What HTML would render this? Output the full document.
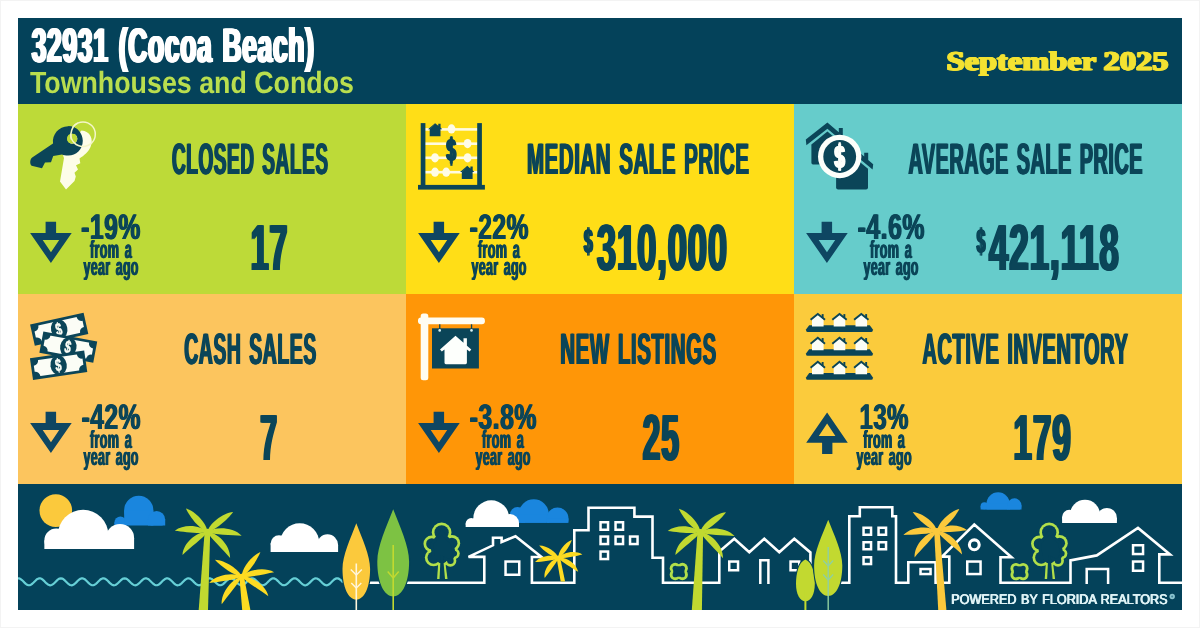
<!DOCTYPE html>
<html><head><meta charset="utf-8"><title>32931 (Cocoa Beach) Townhouses and Condos - September 2025</title>
<style>
html,body{margin:0;padding:0;background:#fff;}
body{width:1200px;height:628px;overflow:hidden;font-family:"Liberation Sans",sans-serif;}
svg{display:block;will-change:transform;}
</style></head><body>
<svg width="1200" height="628" viewBox="0 0 1200 628" text-rendering="geometricPrecision">
<rect x="0" y="0" width="1200" height="628" fill="#ffffff"/>
<rect x="0.5" y="0.5" width="1199" height="627" fill="none" stroke="#f3f3f3" stroke-width="1"/>
<rect x="18" y="18" width="1164" height="86" fill="#04425a"/>
<rect x="18" y="104" width="388" height="190" fill="#bdda38"/>
<rect x="406" y="104" width="388" height="190" fill="#ffde17"/>
<rect x="794" y="104" width="388" height="190" fill="#66cccb"/>
<rect x="18" y="294" width="388" height="190" fill="#fcc55e"/>
<rect x="406" y="294" width="388" height="190" fill="#ff9607"/>
<rect x="794" y="294" width="388" height="190" fill="#fbcb3c"/>
<rect x="18" y="484" width="1164" height="126" fill="#04425a"/>
<text id="t1" transform="translate(30.40,62.20) scale(0.5471,1.0000)" font-family="Liberation Sans" font-weight="bold" font-size="48.29" fill="#ffffff" word-spacing="3.66" letter-spacing="1.28">32931 (Cocoa Beach)</text>
<use href="#t1" x="0.62"/>
<use href="#t1" x="1.25"/>
<use href="#t1" x="1.88"/>
<use href="#t1" x="2.50"/>
<text id="t2" transform="translate(29.90,92.50) scale(0.8733,1.0000)" font-family="Liberation Sans" font-weight="bold" font-size="30.69" fill="#b9de4e">Townhouses and Condos</text>
<text id="t3" transform="translate(945.80,70.00) scale(1.2074,1.0000)" font-family="Liberation Serif" font-weight="bold" font-size="26.87" fill="#f4e232" stroke="#f4e232" stroke-width="0.70" stroke-linejoin="round">September 2025</text>
<use href="#t3" x="0.80"/>
<use href="#t3" x="1.60"/>
<text id="t4" transform="translate(171.25,173.50) scale(0.4308,1.0000)" font-family="Liberation Sans" font-weight="bold" font-size="44.07" fill="#0b4558" word-spacing="4.18" letter-spacing="1.39">CLOSED SALES</text>
<use href="#t4" x="0.70"/>
<use href="#t4" x="1.40"/>
<text id="t5" transform="translate(526.30,173.50) scale(0.4635,1.0000)" font-family="Liberation Sans" font-weight="bold" font-size="44.07" fill="#0b4558" word-spacing="3.88" letter-spacing="1.29">MEDIAN SALE PRICE</text>
<use href="#t5" x="0.70"/>
<use href="#t5" x="1.40"/>
<text id="t6" transform="translate(907.80,173.50) scale(0.4481,1.0000)" font-family="Liberation Sans" font-weight="bold" font-size="44.07" fill="#0b4558" word-spacing="4.02" letter-spacing="1.34">AVERAGE SALE PRICE</text>
<use href="#t6" x="0.70"/>
<use href="#t6" x="1.40"/>
<text id="t7" transform="translate(183.50,363.50) scale(0.4397,1.0000)" font-family="Liberation Sans" font-weight="bold" font-size="44.07" fill="#0b4558" word-spacing="4.09" letter-spacing="1.36">CASH SALES</text>
<use href="#t7" x="0.70"/>
<use href="#t7" x="1.40"/>
<text id="t8" transform="translate(559.60,363.50) scale(0.4637,1.0000)" font-family="Liberation Sans" font-weight="bold" font-size="44.07" fill="#0b4558" word-spacing="3.88" letter-spacing="1.29">NEW LISTINGS</text>
<use href="#t8" x="0.70"/>
<use href="#t8" x="1.40"/>
<text id="t9" transform="translate(921.70,363.50) scale(0.4543,1.0000)" font-family="Liberation Sans" font-weight="bold" font-size="44.07" fill="#0b4558" word-spacing="3.96" letter-spacing="1.32">ACTIVE INVENTORY</text>
<use href="#t9" x="0.70"/>
<use href="#t9" x="1.40"/>
<text id="t10" transform="translate(249.50,269.80) scale(0.4925,1.0000)" font-family="Liberation Sans" font-weight="bold" font-size="65.16" fill="#0b4558" letter-spacing="1.83">17</text>
<use href="#t10" x="0.80"/>
<use href="#t10" x="1.60"/>
<use href="#t10" x="2.40"/>
<text id="t11" transform="translate(595.70,269.80) scale(0.5298,1.0000)" font-family="Liberation Sans" font-weight="bold" font-size="65.16" fill="#0b4558" letter-spacing="1.70">310,000</text>
<use href="#t11" x="0.80"/>
<use href="#t11" x="1.60"/>
<use href="#t11" x="2.40"/>
<text id="t12" transform="translate(583.00,253.00) scale(0.4580,1.0000)" font-family="Liberation Sans" font-weight="bold" font-size="34.62" fill="#0b4558">$</text>
<use href="#t12" x="0.60"/>
<use href="#t12" x="1.20"/>
<use href="#t12" x="1.80"/>
<text id="t13" transform="translate(987.70,269.80) scale(0.5371,1.0000)" font-family="Liberation Sans" font-weight="bold" font-size="65.16" fill="#0b4558" letter-spacing="1.68">421,118</text>
<use href="#t13" x="0.80"/>
<use href="#t13" x="1.60"/>
<use href="#t13" x="2.40"/>
<text id="t14" transform="translate(975.80,253.00) scale(0.4528,1.0000)" font-family="Liberation Sans" font-weight="bold" font-size="34.62" fill="#0b4558">$</text>
<use href="#t14" x="0.60"/>
<use href="#t14" x="1.20"/>
<use href="#t14" x="1.80"/>
<text id="t15" transform="translate(258.90,459.80) scale(0.4701,1.0000)" font-family="Liberation Sans" font-weight="bold" font-size="65.16" fill="#0b4558" letter-spacing="1.91">7</text>
<use href="#t15" x="0.80"/>
<use href="#t15" x="1.60"/>
<use href="#t15" x="2.40"/>
<text id="t16" transform="translate(641.40,459.80) scale(0.4897,1.0000)" font-family="Liberation Sans" font-weight="bold" font-size="65.16" fill="#0b4558" letter-spacing="1.84">25</text>
<use href="#t16" x="0.80"/>
<use href="#t16" x="1.60"/>
<use href="#t16" x="2.40"/>
<text id="t17" transform="translate(1012.20,459.80) scale(0.5117,1.0000)" font-family="Liberation Sans" font-weight="bold" font-size="65.16" fill="#0b4558" letter-spacing="1.76">179</text>
<use href="#t17" x="0.80"/>
<use href="#t17" x="1.60"/>
<use href="#t17" x="2.40"/>
<text id="t18" transform="translate(80.60,238.90) scale(0.6951,1.0000)" font-family="Liberation Sans" font-weight="bold" font-size="35.49" fill="#0b4558" letter-spacing="0.72">-19%</text>
<use href="#t18" x="0.60"/>
<use href="#t18" x="1.20"/>
<text id="t19" transform="translate(89.60,257.80) scale(0.5050,1.0000)" font-family="Liberation Sans" font-weight="bold" font-size="25.02" fill="#0b4558" word-spacing="3.17" letter-spacing="0.59">from a</text>
<use href="#t19" x="0.50"/>
<use href="#t19" x="1.00"/>
<text id="t20" transform="translate(83.00,275.30) scale(0.5062,1.0000)" font-family="Liberation Sans" font-weight="bold" font-size="24.64" fill="#0b4558" word-spacing="3.16" letter-spacing="0.59">year ago</text>
<use href="#t20" x="0.50"/>
<use href="#t20" x="1.00"/>
<path fill="#0e4662" fill-rule="evenodd" d="M45.6 221.8 h10.5 v11.2 h15.6 L50.9 263.0 L30.1 233.0 h15.5 z M42.7 240.1 h16.5 l-8.25 12.1 z"/>
<text id="t21" transform="translate(469.00,238.90) scale(0.6914,1.0000)" font-family="Liberation Sans" font-weight="bold" font-size="35.49" fill="#0b4558" letter-spacing="0.72">-22%</text>
<use href="#t21" x="0.60"/>
<use href="#t21" x="1.20"/>
<text id="t22" transform="translate(477.60,257.80) scale(0.5050,1.0000)" font-family="Liberation Sans" font-weight="bold" font-size="25.02" fill="#0b4558" word-spacing="3.17" letter-spacing="0.59">from a</text>
<use href="#t22" x="0.50"/>
<use href="#t22" x="1.00"/>
<text id="t23" transform="translate(471.00,275.30) scale(0.5062,1.0000)" font-family="Liberation Sans" font-weight="bold" font-size="24.64" fill="#0b4558" word-spacing="3.16" letter-spacing="0.59">year ago</text>
<use href="#t23" x="0.50"/>
<use href="#t23" x="1.00"/>
<path fill="#0e4662" fill-rule="evenodd" d="M433.6 221.8 h10.5 v11.2 h15.6 L438.9 263.0 L418.1 233.0 h15.5 z M430.7 240.1 h16.5 l-8.25 12.1 z"/>
<text id="t24" transform="translate(857.00,238.90) scale(0.6989,1.0000)" font-family="Liberation Sans" font-weight="bold" font-size="35.49" fill="#0b4558" letter-spacing="0.72">-4.6%</text>
<use href="#t24" x="0.60"/>
<use href="#t24" x="1.20"/>
<text id="t25" transform="translate(869.60,257.80) scale(0.5050,1.0000)" font-family="Liberation Sans" font-weight="bold" font-size="25.02" fill="#0b4558" word-spacing="3.17" letter-spacing="0.59">from a</text>
<use href="#t25" x="0.50"/>
<use href="#t25" x="1.00"/>
<text id="t26" transform="translate(863.00,275.30) scale(0.5062,1.0000)" font-family="Liberation Sans" font-weight="bold" font-size="24.64" fill="#0b4558" word-spacing="3.16" letter-spacing="0.59">year ago</text>
<use href="#t26" x="0.50"/>
<use href="#t26" x="1.00"/>
<path fill="#0e4662" fill-rule="evenodd" d="M821.6 221.8 h10.5 v11.2 h15.6 L826.9 263.0 L806.1 233.0 h15.5 z M818.7 240.1 h16.5 l-8.25 12.1 z"/>
<text id="t27" transform="translate(81.00,428.90) scale(0.6914,1.0000)" font-family="Liberation Sans" font-weight="bold" font-size="35.49" fill="#0b4558" letter-spacing="0.72">-42%</text>
<use href="#t27" x="0.60"/>
<use href="#t27" x="1.20"/>
<text id="t28" transform="translate(89.60,447.80) scale(0.5050,1.0000)" font-family="Liberation Sans" font-weight="bold" font-size="25.02" fill="#0b4558" word-spacing="3.17" letter-spacing="0.59">from a</text>
<use href="#t28" x="0.50"/>
<use href="#t28" x="1.00"/>
<text id="t29" transform="translate(83.00,465.30) scale(0.5062,1.0000)" font-family="Liberation Sans" font-weight="bold" font-size="24.64" fill="#0b4558" word-spacing="3.16" letter-spacing="0.59">year ago</text>
<use href="#t29" x="0.50"/>
<use href="#t29" x="1.00"/>
<path fill="#0e4662" fill-rule="evenodd" d="M45.6 411.8 h10.5 v11.2 h15.6 L50.9 453.0 L30.1 423.0 h15.5 z M42.7 430.1 h16.5 l-8.25 12.1 z"/>
<text id="t30" transform="translate(469.00,428.90) scale(0.6989,1.0000)" font-family="Liberation Sans" font-weight="bold" font-size="35.49" fill="#0b4558" letter-spacing="0.72">-3.8%</text>
<use href="#t30" x="0.60"/>
<use href="#t30" x="1.20"/>
<text id="t31" transform="translate(481.60,447.80) scale(0.5050,1.0000)" font-family="Liberation Sans" font-weight="bold" font-size="25.02" fill="#0b4558" word-spacing="3.17" letter-spacing="0.59">from a</text>
<use href="#t31" x="0.50"/>
<use href="#t31" x="1.00"/>
<text id="t32" transform="translate(475.00,465.30) scale(0.5062,1.0000)" font-family="Liberation Sans" font-weight="bold" font-size="24.64" fill="#0b4558" word-spacing="3.16" letter-spacing="0.59">year ago</text>
<use href="#t32" x="0.50"/>
<use href="#t32" x="1.00"/>
<path fill="#0e4662" fill-rule="evenodd" d="M433.6 411.8 h10.5 v11.2 h15.6 L438.9 453.0 L418.1 423.0 h15.5 z M430.7 430.1 h16.5 l-8.25 12.1 z"/>
<text id="t33" transform="translate(858.90,428.90) scale(0.6740,1.0000)" font-family="Liberation Sans" font-weight="bold" font-size="35.49" fill="#0b4558" letter-spacing="0.74">13%</text>
<use href="#t33" x="0.60"/>
<use href="#t33" x="1.20"/>
<text id="t34" transform="translate(862.70,447.80) scale(0.5050,1.0000)" font-family="Liberation Sans" font-weight="bold" font-size="25.02" fill="#0b4558" word-spacing="3.17" letter-spacing="0.59">from a</text>
<use href="#t34" x="0.50"/>
<use href="#t34" x="1.00"/>
<text id="t35" transform="translate(856.10,465.30) scale(0.5062,1.0000)" font-family="Liberation Sans" font-weight="bold" font-size="24.64" fill="#0b4558" word-spacing="3.16" letter-spacing="0.59">year ago</text>
<use href="#t35" x="0.50"/>
<use href="#t35" x="1.00"/>
<path fill="#0e4662" fill-rule="evenodd" d="M827.1 412.4 L847.8 442.7 h-15.4 v11.3 h-10.3 v-11.3 h-15.9 z M827.1 423.6 l8.3 12.4 h-16.6 z"/>
<g transform="translate(24.0,114.0)"><path fill="#fdfde8" d="M57.5 16.5 C66 17 70 25 66.5 33 C64.5 38 60 41.5 55.5 44.5 L56.3 49.2 L52 51.2 L54 55.5 L50.5 58.8 L51.8 62.5 L50.5 67 L42 75.5 L36 67.5 L40 44 C38 40 40 34 44 30 Z"/><path fill="#0b4558" fill-rule="evenodd" d="M44.2 12.2 C52.5 12 58.8 18.6 58.8 26.8 C58.8 35.6 51.8 41.8 44 41.6 C41.5 41.5 39.5 41.2 38 40.6 L29.2 42 L27 48.2 L21 48.4 L18 54.2 L7.6 51.8 C5.6 50 5.8 45.5 8.2 43.6 L29 29.6 C28 20.5 34.6 12.4 44.2 12.2 Z M48.2 19.6 a5.1 5.1 0 1 0 0.01 0 Z"/><circle cx="48.2" cy="24.7" r="5.1" fill="#bdda38"/><circle cx="59" cy="20.2" r="12.3" fill="none" stroke="#f4f6c8" stroke-width="1.5"/><path fill="#0b4558" d="M44.2 12.2 C48 12.1 51.3 13.4 53.8 15.7 L49.8 19.9 C48.2 19.3 46.2 19.6 45 20.6 Z"/><path d="M53.9 8.9 C50.5 10.5 47.6 14.5 46.9 19.8 C46.7 22.2 47 24 47.4 25.6" fill="none" stroke="#f4f6c8" stroke-width="1.5"/></g>
<g transform="translate(412.0,114.0)"><rect x="11" y="14.1" width="57" height="2.6" fill="#fffbe0"/><rect x="11" y="28.4" width="57" height="2.6" fill="#fffbe0"/><rect x="11" y="42.5" width="57" height="2.6" fill="#fffbe0"/><rect x="11" y="56.9" width="57" height="2.6" fill="#fffbe0"/><rect x="8.7" y="9.1" width="4.7" height="63" fill="#0b4558"/><rect x="65.2" y="9.1" width="4.7" height="63" fill="#0b4558"/><rect x="6" y="70.9" width="66.9" height="4.7" fill="#0b4558"/><ellipse cx="39.5" cy="14.9" rx="3.9" ry="4.6" fill="#fffce6"/><ellipse cx="55.6" cy="29.6" rx="3.9" ry="4.6" fill="#fffce6"/><ellipse cx="23.0" cy="43.8" rx="3.9" ry="4.6" fill="#fffce6"/><ellipse cx="55.6" cy="43.8" rx="3.9" ry="4.6" fill="#fffce6"/><ellipse cx="23.0" cy="58.2" rx="3.9" ry="4.6" fill="#fffce6"/><ellipse cx="34.2" cy="58.2" rx="3.9" ry="4.6" fill="#fffce6"/><path fill="#0b4558" d="M23.1 9.2 L26.3 11.7 L26.3 9.8 L28.6 9.8 L28.6 13.6 L30.2 15.2 L28.5 15.2 L28.5 22.2 L17.7 22.2 L17.7 15.2 Z"/><path fill="#0b4558" d="M23.1 9.2 L16.0 15.2 L18.1 15.2 Z"/><path fill="#0b4558" d="M55.2 51.8 L58.4 54.4 L58.4 52.4 L60.7 52.4 L60.7 56.3 L62.3 57.9 L60.6 57.9 L60.6 65.0 L49.8 65.0 L49.8 57.9 Z"/><path fill="#0b4558" d="M55.2 51.8 L48.1 57.9 L50.2 57.9 Z"/></g>
<text id="t36" transform="translate(445.40,161.20) scale(0.5293,1.0000)" font-family="Liberation Sans" font-weight="bold" font-size="32.00" fill="#0b4558">$</text>
<use href="#t36" x="0.67"/>
<use href="#t36" x="1.33"/>
<use href="#t36" x="2.00"/>
<rect x="450.3" y="136.2" width="2.2" height="29.6" fill="#0b4558"/>
<g transform="translate(800.0,114.0)"><path fill="#0b4558" d="M27.4 8.6 L38.8 18.2 L38.8 14 L42.8 14 L42.8 21.6 L47 25.2 L44 28.8 L27.4 14.8 L6.4 31.2 L5.8 25.6 Z"/><path fill="#0b4558" d="M11.4 30.6 L27.4 17.6 L45 32 L45 50.4 L13 50.4 Q11.4 50.4 11.4 48.8 Z"/><path fill="#0b4558" d="M52 32.2 L64.2 42.6 L64.2 38.8 L68.2 38.8 L68.2 46 L73.2 50.2 L72.6 55.6 L52 38.4 L40 48 L38 43.6 Z"/><path fill="#0b4558" d="M36.1 54.6 L52 41.4 L68 54.8 L68 73.6 Q68 75.6 66 75.6 L38.1 75.6 Q36.1 75.6 36.1 73.6 Z"/><circle cx="39.7" cy="42.5" r="21.7" fill="#fdfffb"/><circle cx="39.7" cy="42.5" r="16.4" fill="#0b4558"/></g>
<text id="t37" transform="translate(833.60,167.60) scale(0.5641,1.0000)" font-family="Liberation Sans" font-weight="bold" font-size="32.58" fill="#fdfffb">$</text>
<use href="#t37" x="0.67"/>
<use href="#t37" x="1.33"/>
<use href="#t37" x="2.00"/>
<rect x="838.6" y="142.2" width="2.2" height="28.6" fill="#fdfffb"/>
<g transform="translate(24.0,304.0)"><g transform="translate(35.2,25.2) rotate(-12.5)"><rect x="-27.4" y="-10.9" width="54.8" height="21.8" fill="#0b4558"/><rect x="-24.6" y="-8.1" width="49.2" height="16.2" fill="#fbfdf6"/><path d="M-25.40 -8.90 L-19.60 -8.90 L-19.60 -8.10 A5.0 5.0 0 0 1 -24.60 -3.10 L-25.40 -3.10 Z" fill="#0b4558"/><path d="M-25.40 8.90 L-19.60 8.90 L-19.60 8.10 A5.0 5.0 0 0 0 -24.60 3.10 L-25.40 3.10 Z" fill="#0b4558"/><path d="M25.40 -8.90 L19.60 -8.90 L19.60 -8.10 A5.0 5.0 0 0 0 24.60 -3.10 L25.40 -3.10 Z" fill="#0b4558"/><path d="M25.40 8.90 L19.60 8.90 L19.60 8.10 A5.0 5.0 0 0 1 24.60 3.10 L25.40 3.10 Z" fill="#0b4558"/><ellipse cx="0" cy="0" rx="8.2" ry="9.9" fill="#0b4558"/><text transform="translate(-3.45,5.9) scale(0.64,1)" font-family="Liberation Sans" font-weight="bold" font-size="17.5" fill="#fbfdf6" stroke="#fbfdf6" stroke-width="0.5">$</text></g><g transform="translate(44.3,43.1) rotate(10.5)"><rect x="-27.4" y="-10.9" width="54.8" height="21.8" fill="#0b4558"/><rect x="-24.6" y="-8.1" width="49.2" height="16.2" fill="#fbfdf6"/><path d="M-25.40 -8.90 L-19.60 -8.90 L-19.60 -8.10 A5.0 5.0 0 0 1 -24.60 -3.10 L-25.40 -3.10 Z" fill="#0b4558"/><path d="M-25.40 8.90 L-19.60 8.90 L-19.60 8.10 A5.0 5.0 0 0 0 -24.60 3.10 L-25.40 3.10 Z" fill="#0b4558"/><path d="M25.40 -8.90 L19.60 -8.90 L19.60 -8.10 A5.0 5.0 0 0 0 24.60 -3.10 L25.40 -3.10 Z" fill="#0b4558"/><path d="M25.40 8.90 L19.60 8.90 L19.60 8.10 A5.0 5.0 0 0 1 24.60 3.10 L25.40 3.10 Z" fill="#0b4558"/><ellipse cx="0" cy="0" rx="8.2" ry="9.9" fill="#0b4558"/><text transform="translate(-3.45,5.9) scale(0.64,1)" font-family="Liberation Sans" font-weight="bold" font-size="17.5" fill="#fbfdf6" stroke="#fbfdf6" stroke-width="0.5">$</text></g><g transform="translate(34.6,61.2) rotate(-8.2)"><rect x="-27.4" y="-10.9" width="54.8" height="21.8" fill="#0b4558"/><rect x="-24.6" y="-8.1" width="49.2" height="16.2" fill="#fbfdf6"/><path d="M-25.40 -8.90 L-19.60 -8.90 L-19.60 -8.10 A5.0 5.0 0 0 1 -24.60 -3.10 L-25.40 -3.10 Z" fill="#0b4558"/><path d="M-25.40 8.90 L-19.60 8.90 L-19.60 8.10 A5.0 5.0 0 0 0 -24.60 3.10 L-25.40 3.10 Z" fill="#0b4558"/><path d="M25.40 -8.90 L19.60 -8.90 L19.60 -8.10 A5.0 5.0 0 0 0 24.60 -3.10 L25.40 -3.10 Z" fill="#0b4558"/><path d="M25.40 8.90 L19.60 8.90 L19.60 8.10 A5.0 5.0 0 0 1 24.60 3.10 L25.40 3.10 Z" fill="#0b4558"/><ellipse cx="0" cy="0" rx="8.2" ry="9.9" fill="#0b4558"/><text transform="translate(-3.45,5.9) scale(0.64,1)" font-family="Liberation Sans" font-weight="bold" font-size="17.5" fill="#fbfdf6" stroke="#fbfdf6" stroke-width="0.5">$</text></g></g>
<g transform="translate(412.0,304.0)"><rect x="8.7" y="9.4" width="7.6" height="66.9" rx="2.5" fill="#fffdf2"/><rect x="6" y="13.4" width="66.9" height="6.9" rx="3" fill="#fffdf2"/><rect x="20" y="24.3" width="46.9" height="40.2" fill="#0b4558"/><rect x="27.1" y="20.3" width="1.3" height="5" fill="#0b4558"/><rect x="58.9" y="20.3" width="1.3" height="5" fill="#0b4558"/><circle cx="27.7" cy="26.4" r="1.3" fill="#d8f2f4"/><circle cx="59.5" cy="26.4" r="1.3" fill="#d8f2f4"/><path fill="#fdfffc" d="M43.5 31.8 L51.5 38.8 L51.5 34.2 L54.9 34.2 L54.9 41.8 L59.3 45.6 L57.6 47.6 L54.9 45.4 L54.9 58.8 Q54.9 60.2 53.5 60.2 L33.9 60.2 Q32.5 60.2 32.5 58.8 L32.5 45.4 L29.8 47.6 L28 45.6 Z"/></g>
<g transform="translate(800.0,304.0)"><path fill="#0b4558" d="M9.2 21.2 L69.8 21.2 L72.9 25.6 Q73.2 27.9 71.5 27.9 L7.4 27.9 Q5.7 27.9 6 25.6 Z" transform="translate(0,0.00)"/><g transform="translate(17.8,0.00)"><path fill="#fbfdf6" d="M0 10.6 L5.8 15.4 L5.8 22.4 L-5.8 22.4 L-5.8 15.4 Z"/><path fill="none" stroke="#0b4558" stroke-width="1.9" stroke-linejoin="miter" d="M-7.2 15.8 L0 9.9 L7.2 15.8"/><rect x="3.9" y="10.1" width="1.9" height="3.6" fill="#0b4558"/></g><g transform="translate(39.5,0.00)"><path fill="#fbfdf6" d="M0 10.6 L5.8 15.4 L5.8 22.4 L-5.8 22.4 L-5.8 15.4 Z"/><path fill="none" stroke="#0b4558" stroke-width="1.9" stroke-linejoin="miter" d="M-7.2 15.8 L0 9.9 L7.2 15.8"/><rect x="3.9" y="10.1" width="1.9" height="3.6" fill="#0b4558"/></g><g transform="translate(61.3,0.00)"><path fill="#fbfdf6" d="M0 10.6 L5.8 15.4 L5.8 22.4 L-5.8 22.4 L-5.8 15.4 Z"/><path fill="none" stroke="#0b4558" stroke-width="1.9" stroke-linejoin="miter" d="M-7.2 15.8 L0 9.9 L7.2 15.8"/><rect x="3.9" y="10.1" width="1.9" height="3.6" fill="#0b4558"/></g><path fill="#0b4558" d="M9.2 21.2 L69.8 21.2 L72.9 25.6 Q73.2 27.9 71.5 27.9 L7.4 27.9 Q5.7 27.9 6 25.6 Z" transform="translate(0,23.95)"/><g transform="translate(17.8,23.95)"><path fill="#fbfdf6" d="M0 10.6 L5.8 15.4 L5.8 22.4 L-5.8 22.4 L-5.8 15.4 Z"/><path fill="none" stroke="#0b4558" stroke-width="1.9" stroke-linejoin="miter" d="M-7.2 15.8 L0 9.9 L7.2 15.8"/><rect x="3.9" y="10.1" width="1.9" height="3.6" fill="#0b4558"/></g><g transform="translate(39.5,23.95)"><path fill="#fbfdf6" d="M0 10.6 L5.8 15.4 L5.8 22.4 L-5.8 22.4 L-5.8 15.4 Z"/><path fill="none" stroke="#0b4558" stroke-width="1.9" stroke-linejoin="miter" d="M-7.2 15.8 L0 9.9 L7.2 15.8"/><rect x="3.9" y="10.1" width="1.9" height="3.6" fill="#0b4558"/></g><g transform="translate(61.3,23.95)"><path fill="#fbfdf6" d="M0 10.6 L5.8 15.4 L5.8 22.4 L-5.8 22.4 L-5.8 15.4 Z"/><path fill="none" stroke="#0b4558" stroke-width="1.9" stroke-linejoin="miter" d="M-7.2 15.8 L0 9.9 L7.2 15.8"/><rect x="3.9" y="10.1" width="1.9" height="3.6" fill="#0b4558"/></g><path fill="#0b4558" d="M9.2 21.2 L69.8 21.2 L72.9 25.6 Q73.2 27.9 71.5 27.9 L7.4 27.9 Q5.7 27.9 6 25.6 Z" transform="translate(0,47.90)"/><g transform="translate(17.8,47.90)"><path fill="#fbfdf6" d="M0 10.6 L5.8 15.4 L5.8 22.4 L-5.8 22.4 L-5.8 15.4 Z"/><path fill="none" stroke="#0b4558" stroke-width="1.9" stroke-linejoin="miter" d="M-7.2 15.8 L0 9.9 L7.2 15.8"/><rect x="3.9" y="10.1" width="1.9" height="3.6" fill="#0b4558"/></g><g transform="translate(39.5,47.90)"><path fill="#fbfdf6" d="M0 10.6 L5.8 15.4 L5.8 22.4 L-5.8 22.4 L-5.8 15.4 Z"/><path fill="none" stroke="#0b4558" stroke-width="1.9" stroke-linejoin="miter" d="M-7.2 15.8 L0 9.9 L7.2 15.8"/><rect x="3.9" y="10.1" width="1.9" height="3.6" fill="#0b4558"/></g><g transform="translate(61.3,47.90)"><path fill="#fbfdf6" d="M0 10.6 L5.8 15.4 L5.8 22.4 L-5.8 22.4 L-5.8 15.4 Z"/><path fill="none" stroke="#0b4558" stroke-width="1.9" stroke-linejoin="miter" d="M-7.2 15.8 L0 9.9 L7.2 15.8"/><rect x="3.9" y="10.1" width="1.9" height="3.6" fill="#0b4558"/></g></g>
<defs><clipPath id="cl1"><rect x="112.4" y="0" width="54.8" height="525.50"/></clipPath><clipPath id="cl2"><rect x="42.4" y="0" width="93.8" height="548.90"/></clipPath><clipPath id="cl3"><rect x="268.6" y="0" width="71.5" height="552.00"/></clipPath><clipPath id="cl4"><rect x="508.0" y="0" width="62.5" height="522.75"/></clipPath><clipPath id="cl5"><rect x="463.6" y="0" width="57.4" height="527.00"/></clipPath><clipPath id="cl6"><rect x="978.6" y="0" width="44.9" height="509.50"/></clipPath><clipPath id="cl7"><rect x="1060.1" y="0" width="58.8" height="522.90"/></clipPath></defs>
<circle cx="55.8" cy="510.6" r="16.3" fill="#fbc93c"/>
<g clip-path="url(#cl1)" fill="#1a86de"><circle cx="120.40" cy="522.50" r="6.00"/><rect x="114.40" y="522.50" width="12.00" height="4.00"/><circle cx="138.75" cy="510.40" r="14.60"/><rect x="124.15" y="510.40" width="29.20" height="16.10"/><circle cx="156.60" cy="519.50" r="8.60"/><rect x="148.00" y="519.50" width="17.20" height="7.00"/></g>
<g clip-path="url(#cl2)" fill="#ffffff"><circle cx="56.25" cy="540.50" r="11.90"/><rect x="44.35" y="540.50" width="23.80" height="9.40"/><circle cx="83.10" cy="535.10" r="25.30"/><rect x="57.80" y="535.10" width="50.60" height="14.80"/><circle cx="120.00" cy="538.00" r="14.10"/><rect x="105.90" y="538.00" width="28.20" height="11.90"/></g>
<g clip-path="url(#cl3)" fill="#ffffff"><circle cx="279.00" cy="543.60" r="8.40"/><rect x="270.60" y="543.60" width="16.80" height="9.40"/><circle cx="299.70" cy="542.80" r="19.50"/><rect x="280.20" y="542.80" width="39.00" height="10.20"/><circle cx="327.50" cy="544.90" r="10.60"/><rect x="316.90" y="544.90" width="21.20" height="8.10"/></g>
<g clip-path="url(#cl4)" fill="#1a86de"><circle cx="517.50" cy="514.50" r="7.50"/><rect x="510.00" y="514.50" width="15.00" height="9.25"/><circle cx="533.75" cy="514.40" r="15.10"/><rect x="518.65" y="514.40" width="30.20" height="9.35"/><circle cx="557.50" cy="518.60" r="11.00"/><rect x="546.50" y="518.60" width="22.00" height="5.15"/></g>
<g clip-path="url(#cl5)" fill="#ffffff"><circle cx="471.25" cy="523.60" r="5.60"/><rect x="465.65" y="523.60" width="11.20" height="4.40"/><circle cx="491.25" cy="518.20" r="17.90"/><rect x="473.35" y="518.20" width="35.80" height="9.80"/><circle cx="510.00" cy="523.00" r="9.00"/><rect x="501.00" y="523.00" width="18.00" height="5.00"/></g>
<g clip-path="url(#cl6)" fill="#1a86de"><circle cx="984.40" cy="506.00" r="3.80"/><rect x="980.60" y="506.00" width="7.60" height="4.50"/><circle cx="998.10" cy="503.90" r="11.60"/><rect x="986.50" y="503.90" width="23.20" height="6.60"/><circle cx="1014.40" cy="505.40" r="7.10"/><rect x="1007.30" y="505.40" width="14.20" height="5.10"/></g>
<g clip-path="url(#cl7)" fill="#ffffff"><circle cx="1069.30" cy="517.00" r="7.20"/><rect x="1062.10" y="517.00" width="14.40" height="6.90"/><circle cx="1085.00" cy="514.90" r="15.10"/><rect x="1069.90" y="514.90" width="30.20" height="9.00"/><circle cx="1106.90" cy="517.90" r="10.00"/><rect x="1096.90" y="517.90" width="20.00" height="6.00"/></g>
<path d="M18.0 578.32 L19.3 578.43 L20.6 579.03 L21.9 580.04 L23.2 581.30 L24.5 582.63 L25.8 583.85 L27.1 584.76 L28.4 585.25 L29.7 585.23 L31.0 584.71 L32.3 583.76 L33.6 582.53 L34.9 581.20 L36.2 579.95 L37.5 578.97 L38.8 578.40 L40.1 578.33 L41.4 578.77 L42.7 579.65 L44.0 580.84 L45.3 582.17 L46.6 583.45 L47.9 584.49 L49.2 585.13 L50.5 585.29 L51.8 584.94 L53.1 584.13 L54.4 582.98 L55.7 581.66 L57.0 580.36 L58.3 579.27 L59.6 578.55 L60.9 578.30 L62.2 578.57 L63.5 579.30 L64.8 580.40 L66.1 581.71 L67.4 583.03 L68.7 584.17 L70.0 584.96 L71.3 585.29 L72.6 585.12 L73.9 584.46 L75.2 583.41 L76.5 582.12 L77.8 580.79 L79.1 579.61 L80.4 578.75 L81.7 578.33 L83.0 578.42 L84.3 579.00 L85.6 579.99 L86.9 581.25 L88.2 582.58 L89.5 583.80 L90.8 584.73 L92.1 585.24 L93.4 585.24 L94.7 584.73 L96.0 583.80 L97.3 582.58 L98.6 581.25 L99.9 579.99 L101.2 579.00 L102.5 578.42 L103.8 578.33 L105.1 578.75 L106.4 579.61 L107.7 580.79 L109.0 582.12 L110.3 583.41 L111.6 584.46 L112.9 585.12 L114.2 585.29 L115.5 584.96 L116.8 584.17 L118.1 583.03 L119.4 581.71 L120.7 580.40 L122.0 579.30 L123.3 578.57 L124.6 578.30 L125.9 578.55 L127.2 579.27 L128.5 580.36 L129.8 581.66 L131.1 582.98 L132.4 584.13 L133.7 584.94 L135.0 585.29 L136.3 585.13 L137.6 584.49 L138.9 583.45 L140.2 582.17 L141.5 580.84 L142.8 579.65 L144.1 578.77 L145.4 578.33 L146.7 578.40 L148.0 578.97 L149.3 579.95 L150.6 581.20 L151.9 582.53 L153.2 583.76 L154.5 584.71 L155.8 585.23 L157.1 585.25 L158.4 584.76 L159.7 583.85 L161.0 582.63 L162.3 581.30 L163.6 580.04 L164.9 579.03 L166.2 578.43 L167.5 578.32 L168.8 578.72 L170.1 579.57 L171.4 580.74 L172.7 582.07 L174.0 583.36 L175.3 584.42 L176.6 585.10 L177.9 585.30 L179.2 584.98 L180.5 584.21 L181.8 583.08 L183.1 581.76 L184.4 580.45 L185.7 579.34 L187.0 578.59 L188.3 578.30 L189.6 578.53 L190.9 579.23 L192.2 580.31 L193.5 581.61 L194.8 582.93 L196.1 584.09 L197.4 584.92 L198.7 585.29 L200.0 585.15 L201.3 584.52 L202.6 583.50 L203.9 582.23 L205.2 580.89 L206.5 579.69 L207.8 578.80 L209.1 578.34 L210.4 578.39 L211.7 578.94 L213.0 579.90 L214.3 581.14 L215.6 582.48 L216.9 583.72 L218.2 584.68 L219.5 585.21 L220.8 585.25 L222.1 584.79 L223.4 583.89 L224.7 582.68 L226.0 581.35 L227.3 580.08 L228.6 579.06 L229.9 578.44 L231.2 578.32 L232.5 578.70 L233.8 579.53 L235.1 580.69 L236.4 582.02 L237.7 583.31 L239.0 584.39 L240.3 585.08 L241.6 585.30 L242.9 585.00 L244.2 584.24 L245.5 583.12 L246.8 581.81 L248.1 580.50 L249.4 579.38 L250.7 578.61 L252.0 578.30 L253.3 578.51 L254.6 579.20 L255.9 580.26 L257.2 581.55 L258.5 582.88 L259.8 584.05 L261.1 584.89 L262.4 585.28 L263.7 585.16 L265.0 584.55 L266.3 583.54 L267.6 582.28 L268.9 580.94 L270.2 579.73 L271.5 578.82 L272.8 578.35 L274.1 578.38 L275.4 578.91 L276.7 579.86 L278.0 581.09 L279.3 582.43 L280.6 583.68 L281.9 584.65 L283.2 585.20 L284.5 585.26 L285.8 584.82 L287.1 583.93 L288.4 582.73 L289.7 581.40 L291.0 580.13 L292.3 579.09 L293.6 578.46 L294.9 578.31 L296.2 578.67 L297.5 579.49 L298.8 580.64 L300.1 581.97 L301.4 583.27 L302.7 584.35 L304.0 585.06 L305.3 585.30 L306.6 585.02 L307.9 584.28 L309.2 583.17 L310.5 581.86 L311.8 580.55 L313.1 579.41 L314.4 578.63 L315.7 578.30 L317.0 578.49 L318.3 579.16 L319.6 580.22 L320.9 581.50 L322.2 582.83 L323.5 584.01 L324.8 584.87 L326.1 585.28 L327.4 585.18 L328.7 584.59 L330.0 583.59 L331.3 582.33 L332.6 580.99 L333.9 579.77 L335.2 578.85 L336.5 578.36 L337.8 578.37 L339.1 578.88 L340.4 579.82 L341.7 581.04 L343.0 582.38" fill="none" stroke="#66cfd6" stroke-width="2.2" stroke-linejoin="round"/>
<path d="M366.00 582.80 L484.30 582.80 L484.30 556.90 L468.50 556.90 L493.00 545.30 L493.00 537.80 L501.60 537.80 L501.60 542.00 L515.50 536.20 L541.50 557.00 L531.90 557.00 L531.90 582.80 L574.30 582.80 L574.30 530.30 L588.50 530.30 L588.50 507.80 L634.40 507.80 L634.40 516.60 L652.50 516.60 L652.50 557.80 L663.00 557.80 L663.00 582.80 L719.30 582.80 L719.30 551.60 L734.30 538.80 L749.30 552.20 L764.30 538.80 L779.30 552.20 L794.30 538.80 L810.40 552.40 L810.40 582.80 L849.30 582.80 L849.30 516.20 L859.80 516.20 L859.80 507.20 L892.30 507.20 L892.30 516.20 L896.00 516.20 L896.00 582.80 L908.30 582.80 L908.30 562.20 L935.60 562.20 L935.60 582.80 L949.30 582.80 L949.30 556.60 L942.00 556.60 L974.30 524.60 L1011.50 557.20 L1000.50 557.20 L1000.50 582.80 L1070.50 582.80 L1070.50 560.40 L1096.80 555.40 L1138.00 527.90 L1170.00 554.40 L1159.30 554.40 L1159.30 582.80 L1182.00 582.80" fill="none" stroke="#ffffff" stroke-width="2.60" stroke-linejoin="miter" stroke-linecap="butt"/>
<rect x="505.55" y="561.55" width="13.70" height="13.20" fill="none" stroke="#ffffff" stroke-width="2.50"/>
<rect x="600.55" y="522.25" width="7.50" height="7.50" fill="none" stroke="#ffffff" stroke-width="2.50"/>
<rect x="615.55" y="522.25" width="7.50" height="7.50" fill="none" stroke="#ffffff" stroke-width="2.50"/>
<rect x="600.55" y="536.55" width="7.50" height="7.50" fill="none" stroke="#ffffff" stroke-width="2.50"/>
<rect x="615.55" y="536.55" width="7.50" height="7.50" fill="none" stroke="#ffffff" stroke-width="2.50"/>
<rect x="630.05" y="536.55" width="7.50" height="7.50" fill="none" stroke="#ffffff" stroke-width="2.50"/>
<rect x="600.55" y="551.55" width="7.50" height="7.50" fill="none" stroke="#ffffff" stroke-width="2.50"/>
<rect x="729.25" y="561.55" width="8.80" height="8.70" fill="none" stroke="#ffffff" stroke-width="2.50"/>
<rect x="790.55" y="561.55" width="8.70" height="8.70" fill="none" stroke="#ffffff" stroke-width="2.50"/>
<path d="M760.30 584.10 L760.30 560.20 L768.40 560.20 L768.40 584.10" fill="none" stroke="#ffffff" stroke-width="2.50" stroke-linejoin="miter" stroke-linecap="butt"/>
<rect x="863.55" y="527.75" width="7.50" height="7.00" fill="none" stroke="#ffffff" stroke-width="2.50"/>
<rect x="878.55" y="527.75" width="7.50" height="7.00" fill="none" stroke="#ffffff" stroke-width="2.50"/>
<rect x="863.55" y="542.25" width="7.50" height="7.00" fill="none" stroke="#ffffff" stroke-width="2.50"/>
<rect x="878.55" y="542.25" width="7.50" height="7.00" fill="none" stroke="#ffffff" stroke-width="2.50"/>
<rect x="863.55" y="557.25" width="7.50" height="6.80" fill="none" stroke="#ffffff" stroke-width="2.50"/>
<rect x="920.55" y="569.05" width="10.00" height="5.00" fill="none" stroke="#ffffff" stroke-width="2.50"/>
<circle cx="974.3" cy="544.8" r="4.9" fill="none" stroke="#ffffff" stroke-width="3.1"/>
<rect x="967.25" y="561.55" width="13.30" height="12.50" fill="none" stroke="#ffffff" stroke-width="2.50"/>
<path d="M1086.70 584.10 L1086.70 569.00 L1108.10 569.00 L1108.10 584.10" fill="none" stroke="#ffffff" stroke-width="2.50" stroke-linejoin="miter" stroke-linecap="butt"/>
<rect x="1133.05" y="545.25" width="10.00" height="8.80" fill="none" stroke="#ffffff" stroke-width="2.50"/>
<rect x="1133.05" y="561.55" width="10.00" height="9.20" fill="none" stroke="#ffffff" stroke-width="2.50"/>
<g transform="translate(0.0,0)"><circle cx="441.6" cy="532.4" r="9.85" fill="#b2df4a"/><circle cx="431.8" cy="543.8" r="8.35" fill="#b2df4a"/><circle cx="451.9" cy="543.2" r="8.25" fill="#b2df4a"/><circle cx="433.6" cy="557.6" r="8.75" fill="#b2df4a"/><circle cx="454.2" cy="553.6" r="5.55" fill="#b2df4a"/><circle cx="450.4" cy="560.8" r="5.95" fill="#b2df4a"/><circle cx="441.8" cy="557.5" r="8.55" fill="#b2df4a"/><path d="M438.3 562 L445.3 562 L447.5 578.9 L437.1 578.9 Z" fill="#b2df4a"/><circle cx="441.6" cy="532.4" r="7.15" fill="#04425a"/><circle cx="431.8" cy="543.8" r="5.65" fill="#04425a"/><circle cx="451.9" cy="543.2" r="5.55" fill="#04425a"/><circle cx="433.6" cy="557.6" r="6.05" fill="#04425a"/><circle cx="454.2" cy="553.6" r="2.85" fill="#04425a"/><circle cx="450.4" cy="560.8" r="3.25" fill="#04425a"/><circle cx="441.8" cy="557.5" r="5.85" fill="#04425a"/><path d="M441.6 532.4 L451.9 543.2 L454.2 553.6 L450.4 560.8 L441.8 557.5 L433.6 557.6 L431.8 543.8 Z" fill="#04425a" stroke="#04425a" stroke-width="3"/><path d="M440.7 555 L442.9 555 L445.1 580 L439.5 580 Z" fill="#04425a"/></g>
<g transform="translate(607.6,0)"><circle cx="441.6" cy="532.4" r="9.85" fill="#b2df4a"/><circle cx="431.8" cy="543.8" r="8.35" fill="#b2df4a"/><circle cx="451.9" cy="543.2" r="8.25" fill="#b2df4a"/><circle cx="433.6" cy="557.6" r="8.75" fill="#b2df4a"/><circle cx="454.2" cy="553.6" r="5.55" fill="#b2df4a"/><circle cx="450.4" cy="560.8" r="5.95" fill="#b2df4a"/><circle cx="441.8" cy="557.5" r="8.55" fill="#b2df4a"/><path d="M438.3 562 L445.3 562 L447.5 578.9 L437.1 578.9 Z" fill="#b2df4a"/><circle cx="441.6" cy="532.4" r="7.15" fill="#04425a"/><circle cx="431.8" cy="543.8" r="5.65" fill="#04425a"/><circle cx="451.9" cy="543.2" r="5.55" fill="#04425a"/><circle cx="433.6" cy="557.6" r="6.05" fill="#04425a"/><circle cx="454.2" cy="553.6" r="2.85" fill="#04425a"/><circle cx="450.4" cy="560.8" r="3.25" fill="#04425a"/><circle cx="441.8" cy="557.5" r="5.85" fill="#04425a"/><path d="M441.6 532.4 L451.9 543.2 L454.2 553.6 L450.4 560.8 L441.8 557.5 L433.6 557.6 L431.8 543.8 Z" fill="#04425a" stroke="#04425a" stroke-width="3"/><path d="M440.7 555 L442.9 555 L445.1 580 L439.5 580 Z" fill="#04425a"/></g>
<circle cx="675.2" cy="568.3" r="5.5" fill="#b2df4a"/><circle cx="682.4" cy="568.3" r="5.5" fill="#b2df4a"/><circle cx="675.2" cy="574.7" r="5.5" fill="#b2df4a"/><circle cx="682.4" cy="574.7" r="5.5" fill="#b2df4a"/><circle cx="675.2" cy="568.3" r="2.6" fill="#04425a"/><circle cx="682.4" cy="568.3" r="2.6" fill="#04425a"/><circle cx="675.2" cy="574.7" r="2.6" fill="#04425a"/><circle cx="682.4" cy="574.7" r="2.6" fill="#04425a"/><rect x="677.0" y="566.3" width="3.6" height="10.4" fill="#04425a"/><rect x="673.2" y="569.8" width="11.2" height="3.4" fill="#04425a"/>
<circle cx="1015.9" cy="568.4" r="5.5" fill="#b2df4a"/><circle cx="1023.1" cy="568.4" r="5.5" fill="#b2df4a"/><circle cx="1015.9" cy="574.8" r="5.5" fill="#b2df4a"/><circle cx="1023.1" cy="574.8" r="5.5" fill="#b2df4a"/><circle cx="1015.9" cy="568.4" r="2.6" fill="#04425a"/><circle cx="1023.1" cy="568.4" r="2.6" fill="#04425a"/><circle cx="1015.9" cy="574.8" r="2.6" fill="#04425a"/><circle cx="1023.1" cy="574.8" r="2.6" fill="#04425a"/><rect x="1017.7" y="566.4" width="3.6" height="10.4" fill="#04425a"/><rect x="1013.9" y="569.9" width="11.2" height="3.4" fill="#04425a"/>
<path d="M356.30 523.30 C362.10 538.56 370.10 555.35 370.10 569.08 C370.10 587.39 364.30 599.60 356.30 599.60 C348.30 599.60 342.50 587.39 342.50 569.08 C342.50 555.35 350.50 538.56 356.30 523.30 Z" fill="#04425a" stroke="#04425a" stroke-width="2.2" stroke-linejoin="round"/><path d="M356.30 523.30 C362.10 538.56 370.10 555.35 370.10 569.08 C370.10 587.39 364.30 599.60 356.30 599.60 C348.30 599.60 342.50 587.39 342.50 569.08 C342.50 555.35 350.50 538.56 356.30 523.30 Z" fill="#fbc93c"/><path d="M356.30 563.50 L356.30 610" stroke="#fff6dc" stroke-width="1.60" fill="none"/><path d="M356.30 575.00 L350.80 569.50 M356.30 575.00 L361.80 569.50" stroke="#fff6dc" stroke-width="1.44" fill="none"/><path d="M356.30 588.00 L351.30 583.00 M356.30 588.00 L361.30 583.00" stroke="#fff6dc" stroke-width="1.44" fill="none"/>
<path d="M393.20 509.20 C399.88 526.60 409.10 545.74 409.10 561.40 C409.10 582.28 402.42 596.20 393.20 596.20 C383.98 596.20 377.30 582.28 377.30 561.40 C377.30 545.74 386.52 526.60 393.20 509.20 Z" fill="#04425a" stroke="#04425a" stroke-width="2.2" stroke-linejoin="round"/><path d="M393.20 509.20 C399.88 526.60 409.10 545.74 409.10 561.40 C409.10 582.28 402.42 596.20 393.20 596.20 C383.98 596.20 377.30 582.28 377.30 561.40 C377.30 545.74 386.52 526.60 393.20 509.20 Z" fill="#7dc243"/><path d="M393.20 545.00 L393.20 610" stroke="#c1d930" stroke-width="1.60" fill="none"/><path d="M393.20 578.00 L387.70 571.50 M393.20 578.00 L398.70 571.50" stroke="#c1d930" stroke-width="1.44" fill="none"/>
<path d="M805.40 559.60 C812.45 562.10 814.80 574.58 814.80 583.73 C814.80 594.21 810.85 601.20 805.40 601.20 C799.95 601.20 796.00 594.21 796.00 583.73 C796.00 574.58 798.35 562.10 805.40 559.60 Z" fill="#04425a" stroke="#04425a" stroke-width="2.2" stroke-linejoin="round"/><path d="M805.40 559.60 C812.45 562.10 814.80 574.58 814.80 583.73 C814.80 594.21 810.85 601.20 805.40 601.20 C799.95 601.20 796.00 594.21 796.00 583.73 C796.00 574.58 798.35 562.10 805.40 559.60 Z" fill="#c2d930"/><path d="M805.40 590.00 L805.40 610" stroke="#c2d930" stroke-width="2.00" fill="none"/>
<path d="M828.20 519.80 C834.12 535.04 842.30 551.80 842.30 565.52 C842.30 583.81 836.38 596.00 828.20 596.00 C820.02 596.00 814.10 583.81 814.10 565.52 C814.10 551.80 822.28 535.04 828.20 519.80 Z" fill="#04425a" stroke="#04425a" stroke-width="2.2" stroke-linejoin="round"/><path d="M828.20 519.80 C834.12 535.04 842.30 551.80 842.30 565.52 C842.30 583.81 836.38 596.00 828.20 596.00 C820.02 596.00 814.10 583.81 814.10 565.52 C814.10 551.80 822.28 535.04 828.20 519.80 Z" fill="#c2d930"/><path d="M828.20 547.00 L828.20 610" stroke="#8fd0a0" stroke-width="1.40" fill="none"/><path d="M828.20 566.00 L823.20 560.50 M828.20 566.00 L833.20 560.50" stroke="#8fd0a0" stroke-width="1.26" fill="none"/><path d="M828.20 580.00 L823.20 574.50 M828.20 580.00 L833.20 574.50" stroke="#8fd0a0" stroke-width="1.26" fill="none"/>
<path d="M204.60 532.10 L210.20 532.10 L208.00 610 L198.70 610 Z" fill="#c1d930"/><path d="M207.40 532.10 C207.26 524.49 196.03 511.50 186.00 508.60 C189.60 517.36 200.83 530.35 207.40 532.10 Z" fill="#c1d930"/><path d="M207.40 532.10 C208.77 524.31 222.24 512.99 233.10 512.10 C227.59 519.86 214.11 531.18 207.40 532.10 Z" fill="#c1d930"/><path d="M207.40 532.10 C201.81 525.43 184.27 523.14 174.80 530.70 C183.90 531.83 201.43 534.13 207.40 532.10 Z" fill="#c1d930"/><path d="M207.40 532.10 C214.24 526.36 232.93 526.77 241.70 535.70 C232.02 535.43 213.34 535.02 207.40 532.10 Z" fill="#c1d930"/><path d="M207.40 532.10 C198.20 531.05 183.42 541.90 182.50 554.90 C189.30 548.32 204.08 537.47 207.40 532.10 Z" fill="#c1d930"/><path d="M207.40 532.10 C216.74 532.16 230.49 544.84 230.10 558.00 C223.94 550.58 210.19 537.90 207.40 532.10 Z" fill="#c1d930"/><circle cx="207.40" cy="532.10" r="3.40" fill="#c1d930"/>
<path d="M697.50 532.30 L703.10 532.30 L701.90 610 L691.80 610 Z" fill="#c1d930"/><path d="M700.30 532.30 C700.16 524.69 688.93 511.70 678.90 508.80 C682.50 517.56 693.73 530.55 700.30 532.30 Z" fill="#c1d930"/><path d="M700.30 532.30 C701.67 524.51 715.14 513.19 726.00 512.30 C720.49 520.06 707.01 531.38 700.30 532.30 Z" fill="#c1d930"/><path d="M700.30 532.30 C694.71 525.63 677.17 523.34 667.70 530.90 C676.80 532.03 694.33 534.33 700.30 532.30 Z" fill="#c1d930"/><path d="M700.30 532.30 C707.14 526.56 725.83 526.97 734.60 535.90 C724.92 535.63 706.24 535.22 700.30 532.30 Z" fill="#c1d930"/><path d="M700.30 532.30 C691.10 531.25 676.32 542.10 675.40 555.10 C682.20 548.52 696.98 537.67 700.30 532.30 Z" fill="#c1d930"/><path d="M700.30 532.30 C709.64 532.36 723.39 545.04 723.00 558.20 C716.84 550.78 703.09 538.10 700.30 532.30 Z" fill="#c1d930"/><circle cx="700.30" cy="532.30" r="3.40" fill="#c1d930"/>
<path d="M934.20 531.30 L939.60 531.30 L946.40 610 L938.20 610 Z" fill="#fbc93c"/><path d="M936.90 531.30 C935.84 523.69 923.18 512.80 912.70 512.10 C917.77 519.62 930.43 530.51 936.90 531.30 Z" fill="#fbc93c"/><path d="M936.90 531.30 C937.38 523.72 949.16 511.31 959.30 508.90 C955.32 517.46 943.53 529.87 936.90 531.30 Z" fill="#fbc93c"/><path d="M936.90 531.30 C930.16 525.58 911.91 526.05 903.40 535.00 C912.86 534.70 931.12 534.23 936.90 531.30 Z" fill="#fbc93c"/><path d="M936.90 531.30 C942.16 524.70 958.53 522.62 967.30 530.30 C958.81 531.32 942.45 533.40 936.90 531.30 Z" fill="#fbc93c"/><path d="M936.90 531.30 C927.58 531.46 914.03 544.27 914.60 557.40 C920.65 549.92 934.19 537.12 936.90 531.30 Z" fill="#fbc93c"/><path d="M936.90 531.30 C946.18 530.37 961.13 541.49 962.10 554.60 C955.22 547.89 940.27 536.76 936.90 531.30 Z" fill="#fbc93c"/><circle cx="936.90" cy="531.30" r="3.30" fill="#fbc93c"/>
<path d="M239.40 576.70 L244.00 576.70 L250.40 610 L242.20 610 Z" fill="#fddb22"/><path d="M241.70 576.70 C239.38 569.70 225.20 560.05 214.90 559.70 C221.05 566.59 235.23 576.23 241.70 576.70 Z" fill="#fddb22"/><path d="M241.70 576.70 C241.35 569.45 251.01 555.83 260.40 552.10 C257.17 560.51 247.51 574.13 241.70 576.70 Z" fill="#fddb22"/><path d="M241.70 576.70 C234.77 572.13 216.95 574.07 209.20 582.90 C218.40 581.67 236.22 579.73 241.70 576.70 Z" fill="#fddb22"/><path d="M241.70 576.70 C246.74 570.16 264.04 566.31 274.10 572.20 C265.10 573.97 247.80 577.82 241.70 576.70 Z" fill="#fddb22"/><path d="M241.70 576.70 C233.07 578.03 220.85 591.90 221.70 604.30 C227.11 596.44 239.34 582.57 241.70 576.70 Z" fill="#fddb22"/><path d="M241.70 576.70 C250.18 575.22 265.64 584.39 268.40 596.30 C261.06 590.63 245.60 581.46 241.70 576.70 Z" fill="#fddb22"/><circle cx="241.70" cy="576.70" r="2.90" fill="#fddb22"/>
<path d="M556.60 557.90 L560.20 557.90 L565.10 581.6 L560.70 581.6 Z" fill="#fddb22"/><path d="M558.40 557.90 C557.08 552.37 546.95 545.26 539.20 545.40 C543.39 550.73 553.51 557.85 558.40 557.90 Z" fill="#fddb22"/><path d="M558.40 557.90 C557.69 552.35 564.57 542.47 571.80 540.10 C569.79 546.40 562.91 556.27 558.40 557.90 Z" fill="#fddb22"/><path d="M558.40 557.90 C553.35 553.98 540.52 555.17 535.00 562.10 C541.67 561.59 554.50 560.41 558.40 557.90 Z" fill="#fddb22"/><path d="M558.40 557.90 C562.05 552.59 574.86 549.66 582.40 554.50 C575.78 556.13 562.97 559.05 558.40 557.90 Z" fill="#fddb22"/><path d="M558.40 557.90 C551.79 558.66 543.30 568.71 544.70 577.90 C548.68 572.40 557.17 562.35 558.40 557.90 Z" fill="#fddb22"/><path d="M558.40 557.90 C564.85 556.29 576.30 562.71 578.20 571.80 C572.55 568.06 561.10 561.63 558.40 557.90 Z" fill="#fddb22"/><circle cx="558.40" cy="557.90" r="2.40" fill="#fddb22"/>
<text id="t38" transform="translate(950.80,603.70) scale(0.8949,1.0000)" font-family="Liberation Sans" font-weight="normal" font-size="14.11" fill="#dff3f6" word-spacing="1.12">POWERED BY FLORIDA REALTORS</text>
<use href="#t38" x="0.45"/>
<use href="#t38" x="0.90"/>
<circle cx="1172.2" cy="596.5" r="2.7" fill="#8cc4cf"/><circle cx="1172.2" cy="596.5" r="1.0" fill="#3f8296"/>
</svg>
</body></html>
